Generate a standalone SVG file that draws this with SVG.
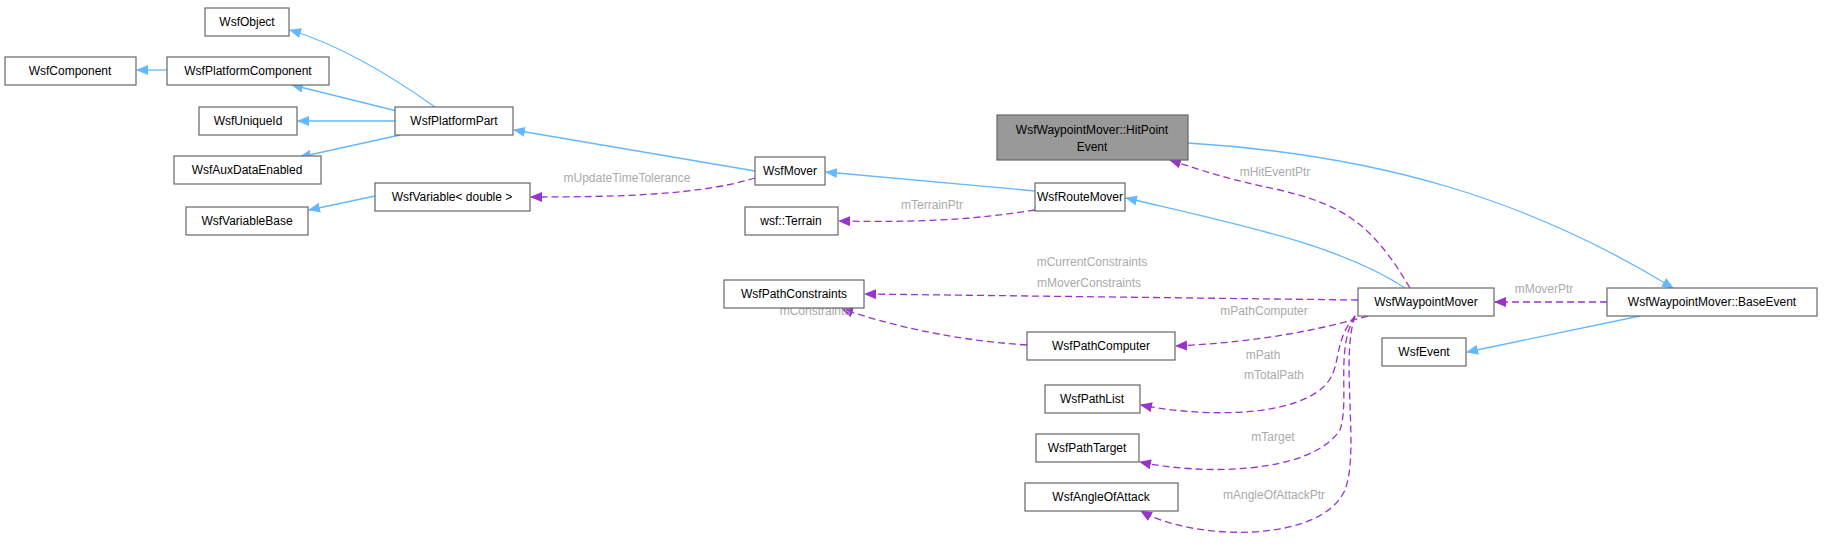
<svg xmlns="http://www.w3.org/2000/svg" width="1826" height="546" viewBox="0 0 1826 546">
<style>
.n rect{fill:#fff;stroke:#666;stroke-width:1.2}
.n text,.l{font-family:"Liberation Sans",Arial,sans-serif;font-size:12px}
.n text{fill:#000;text-anchor:middle}
.l{fill:#aaa;text-anchor:middle}
.i{fill:none;stroke:#63b8ff;stroke-width:1.3}
.u{fill:none;stroke:#9a32cd;stroke-width:1.3;stroke-dasharray:7,4}
</style>
<defs>
<marker id="ai" markerWidth="12" markerHeight="10" refX="11" refY="5" orient="auto" markerUnits="userSpaceOnUse"><path d="M0,0L12,5L0,10Z" fill="#63b8ff"/></marker>
<marker id="au" markerWidth="12" markerHeight="10" refX="11" refY="5" orient="auto" markerUnits="userSpaceOnUse"><path d="M0,0L12,5L0,10Z" fill="#9a32cd"/></marker>
</defs>
<rect width="1826" height="546" fill="#fff"/>
<g id="edges">
<path class="i" marker-end="url(#ai)" d="M167,70L137,70"/>
<path class="i" marker-end="url(#ai)" d="M435,107C390,75 340,45 290,30"/>
<path class="i" marker-end="url(#ai)" d="M397,111L292,85"/>
<path class="i" marker-end="url(#ai)" d="M395,121L298,121"/>
<path class="i" marker-end="url(#ai)" d="M400,135L300,157"/>
<path class="i" marker-end="url(#ai)" d="M375,196L309,210"/>
<path class="i" marker-end="url(#ai)" d="M755,171L514,130"/>
<path class="i" marker-end="url(#ai)" d="M1035,191L826,172"/>
<path class="i" marker-end="url(#ai)" d="M1405,288C1340,245 1240,225 1126,198"/>
<path class="i" marker-end="url(#ai)" d="M1188,143C1380,155 1530,200 1673,288"/>
<path class="i" marker-end="url(#ai)" d="M1640,316L1467,352"/>
<path class="u" marker-end="url(#au)" d="M755,178C700,195 620,197 531,197"/>
<text class="l" x="627" y="182">mUpdateTimeTolerance</text>
<path class="u" marker-end="url(#au)" d="M1035,210C960,222 900,222 839,221"/>
<text class="l" x="932" y="209">mTerrainPtr</text>
<path class="u" marker-end="url(#au)" d="M1410,288C1370,220 1340,205 1280,190C1230,180 1200,170 1170,160"/>
<text class="l" x="1275" y="176">mHitEventPtr</text>
<path class="u" marker-end="url(#au)" d="M1358,300L865,294"/>
<text class="l" x="1092" y="266">mCurrentConstraints</text>
<text class="l" x="1089" y="287">mMoverConstraints</text>
<path class="u" marker-end="url(#au)" d="M1027,345C950,340 890,325 842,309"/>
<text class="l" x="815" y="315">mConstraints</text>
<path class="u" marker-end="url(#au)" d="M1368,316C1300,335 1240,343 1176,346"/>
<text class="l" x="1264" y="315">mPathComputer</text>
<path class="u" marker-end="url(#au)" d="M1355,316C1330,345 1345,370 1320,390C1280,420 1190,415 1141,405"/>
<text class="l" x="1263" y="359">mPath</text>
<text class="l" x="1274" y="379">mTotalPath</text>
<path class="u" marker-end="url(#au)" d="M1355,316C1335,350 1350,400 1340,430C1310,475 1200,475 1140,462"/>
<text class="l" x="1273" y="441">mTarget</text>
<path class="u" marker-end="url(#au)" d="M1355,316C1340,360 1360,450 1345,490C1320,545 1190,540 1141,511"/>
<text class="l" x="1274" y="499">mAngleOfAttackPtr</text>
<path class="u" marker-end="url(#au)" d="M1607,302L1495,302"/>
<text class="l" x="1544" y="293">mMoverPtr</text>
</g>
<g id="WsfObject" class="n"><rect x="205" y="8" width="84" height="28"/><text x="247" y="26">WsfObject</text></g>
<g id="WsfComponent" class="n"><rect x="5" y="57" width="131" height="28"/><text x="70" y="75">WsfComponent</text></g>
<g id="WsfPlatformComponent" class="n"><rect x="167" y="57" width="162" height="28"/><text x="248" y="75">WsfPlatformComponent</text></g>
<g id="WsfUniqueId" class="n"><rect x="199" y="107" width="98" height="28"/><text x="248" y="125">WsfUniqueId</text></g>
<g id="WsfPlatformPart" class="n"><rect x="395" y="107" width="118" height="28"/><text x="454" y="125">WsfPlatformPart</text></g>
<g id="WsfAuxDataEnabled" class="n"><rect x="174" y="156" width="147" height="28"/><text x="247" y="174">WsfAuxDataEnabled</text></g>
<g id="WsfVariable" class="n"><rect x="375" y="183" width="155" height="28"/><text x="452" y="201">WsfVariable&lt; double &gt;</text></g>
<g id="WsfVariableBase" class="n"><rect x="186" y="207" width="122" height="28"/><text x="247" y="225">WsfVariableBase</text></g>
<g id="WsfMover" class="n"><rect x="755" y="157" width="70" height="28"/><text x="790" y="175">WsfMover</text></g>
<g id="HitPointEvent" class="n"><rect x="997" y="115" width="191" height="45" style="fill:#999"/><text x="1092" y="134">WsfWaypointMover::HitPoint</text><text x="1092" y="151">Event</text></g>
<g id="WsfRouteMover" class="n"><rect x="1035" y="183" width="90" height="28"/><text x="1080" y="201">WsfRouteMover</text></g>
<g id="Terrain" class="n"><rect x="745" y="207" width="93" height="28"/><text x="791" y="225">wsf::Terrain</text></g>
<g id="WsfPathConstraints" class="n"><rect x="724" y="280" width="140" height="28"/><text x="794" y="298">WsfPathConstraints</text></g>
<g id="WsfPathComputer" class="n"><rect x="1027" y="332" width="148" height="28"/><text x="1101" y="350">WsfPathComputer</text></g>
<g id="WsfWaypointMover" class="n"><rect x="1358" y="288" width="136" height="28"/><text x="1426" y="306">WsfWaypointMover</text></g>
<g id="BaseEvent" class="n"><rect x="1607" y="288" width="210" height="28"/><text x="1712" y="306">WsfWaypointMover::BaseEvent</text></g>
<g id="WsfEvent" class="n"><rect x="1382" y="338" width="84" height="28"/><text x="1424" y="356">WsfEvent</text></g>
<g id="WsfPathList" class="n"><rect x="1045" y="385" width="95" height="28"/><text x="1092" y="403">WsfPathList</text></g>
<g id="WsfPathTarget" class="n"><rect x="1036" y="434" width="103" height="28"/><text x="1087" y="452">WsfPathTarget</text></g>
<g id="WsfAngleOfAttack" class="n"><rect x="1025" y="483" width="153" height="28"/><text x="1101" y="501">WsfAngleOfAttack</text></g>
</svg>
